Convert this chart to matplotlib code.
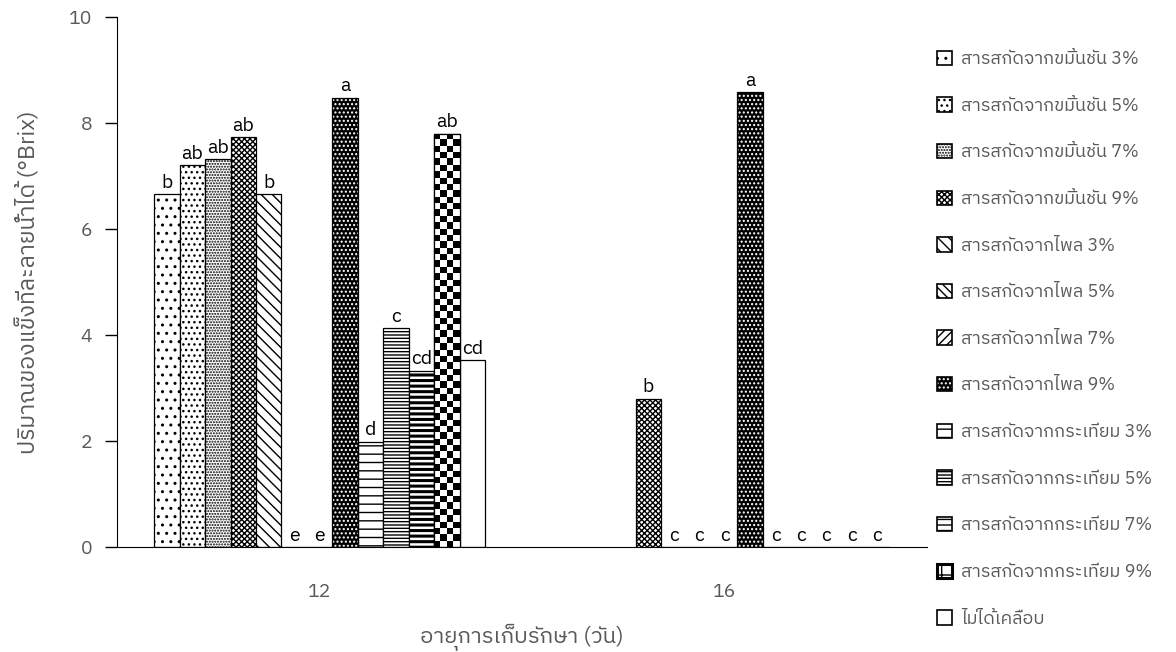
import numpy as np
import matplotlib
matplotlib.use("Agg")
import matplotlib.pyplot as plt
import matplotlib.font_manager as fm
from matplotlib.ft2font import FT2Font
from matplotlib.patches import Patch
from matplotlib.legend_handler import HandlerTuple

# ---- find a font with Thai glyphs ----
thai_font = None
cands = []
for f in fm.fontManager.ttflist:
    try:
        cm = FT2Font(f.fname).get_charmap()
    except Exception:
        continue
    if 0x0E01 in cm:
        cands.append(f.name)
pref = [c for c in cands if "Sans" in c or "Loop" in c]
if pref:
    thai_font = pref[0]
elif cands:
    thai_font = cands[0]
fams = ([thai_font] if thai_font else []) + ["DejaVu Sans"]
plt.rcParams["font.family"] = fams

# ---- data ----
days = ["12", "16"]
treatments = [
    "สารสกัดจากขมิ้นชัน 3%", "สารสกัดจากขมิ้นชัน 5%", "สารสกัดจากขมิ้นชัน 7%",
    "สารสกัดจากขมิ้นชัน 9%", "สารสกัดจากไพล 3%", "สารสกัดจากไพล 5%",
    "สารสกัดจากไพล 7%", "สารสกัดจากไพล 9%", "สารสกัดจากกระเทียม 3%",
    "สารสกัดจากกระเทียม 5%", "สารสกัดจากกระเทียม 7%", "สารสกัดจากกระเทียม 9%",
    "ไม่ได้เคลือบ",
]
values_day12 = [6.66, 7.20, 7.32, 7.74, 6.66, 0.0, 0.0, 8.48, 1.99, 4.13, 3.33, 7.80, 3.52]
values_day16 = [np.nan, np.nan, np.nan, 2.80, 0.0, 0.0, 0.0, 8.59, 0.0, 0.0, 0.0, 0.0, 0.0]
letters_day12 = ["b", "ab", "ab", "ab", "b", "e", "e", "a", "d", "c", "cd", "ab", "cd"]
letters_day16 = ["", "", "", "b", "c", "c", "c", "a", "c", "c", "c", "c", "c"]
yticks = [0, 2, 4, 6, 8, 10]

# ---- styles ----
styles = [
    dict(fc="white", hatch=".."),
    dict(fc="white", hatch="..."),
    dict(fc="white", hatch="......"),
    dict(fc="white", hatch="xxxxxx"),
    dict(fc="white", hatch="\\\\\\"),
    dict(fc="white", hatch="\\\\\\\\"),
    dict(fc="white", hatch="////"),
    dict(fc="black", hatch="....", hc="white"),
    dict(fc="white", hatch="--"),
    dict(fc="white", hatch="-----"),
    dict(fc="white", hatch="---", hlw=2.2),
    dict(fc="white", hatch=None, checker=True),
    dict(fc="white", hatch=None),
]

fig = plt.figure(figsize=(11.76, 6.52), dpi=100)
ax = fig.add_axes([0.0995, 0.161, 0.689, 0.813])

n = len(treatments)
w = 0.0628
x = np.arange(len(days))
data = np.array([values_day12, values_day16], dtype=float)
letters = [letters_day12, letters_day16]
gray = "#595959"


def set_hlw(p, lw):
    try:
        p.set_hatch_linewidth(lw)
    except Exception:
        pass


handles = []
for i in range(n):
    st = styles[i]
    xs = x + (i - (n - 1) / 2) * w
    vals = data[:, i]
    hc = st.get("hc", "black")
    bars = ax.bar(xs, vals, w, color=st["fc"], edgecolor=hc, hatch=st["hatch"],
                  linewidth=0 if hc != "black" else 0.9, zorder=2)
    if st.get("hlw"):
        for b in bars:
            set_hlw(b, st["hlw"])
    if hc != "black":
        ax.bar(xs, vals, w, fill=False, edgecolor="black", linewidth=0.9, zorder=3)
    if st.get("checker"):
        for b in bars:
            h = b.get_height()
            if not np.isfinite(h) or h <= 0:
                continue
            ncol = 4
            nrow = max(1, int(round(h * 53 / 6.4)))
            cb = (np.indices((nrow, ncol)).sum(axis=0) % 2).astype(float)
            im = ax.imshow(cb, cmap="gray", extent=(b.get_x(), b.get_x() + b.get_width(), 0, h),
                           aspect="auto", interpolation="nearest", zorder=2.5, origin="lower")
            im.set_clip_path(b)
            ax.bar(b.get_x() + b.get_width() / 2, h, b.get_width(), fill=False,
                   edgecolor="black", linewidth=0.9, zorder=3)
    for j in range(len(days)):
        lab = letters[j][i]
        if lab:
            v = vals[j] if np.isfinite(vals[j]) else 0
            ax.text(xs[j], v + 0.04, lab, ha="center", va="bottom", fontsize=14,
                    color="black", zorder=4)
    # legend handles
    if hc != "black":
        hnd = (Patch(fc=st["fc"], ec=hc, hatch=st["hatch"], lw=0),
               Patch(fill=False, ec="black", lw=1.2))
    elif st.get("checker"):
        hnd = Patch(fc="white", ec="black", hatch="+", lw=2.2)
        set_hlw(hnd, 2.0)
    else:
        hnd = Patch(fc=st["fc"], ec="black", hatch=st["hatch"], lw=1.2)
        if st.get("hlw"):
            set_hlw(hnd, st["hlw"])
    handles.append(hnd)

ax.set_xlim(-0.5, 1.5)
ax.set_ylim(0, 10)
ax.set_yticks(yticks)
ax.set_xticks(x)
ax.set_xticklabels(days)
ax.tick_params(axis="y", direction="out", length=9, width=1, labelcolor=gray,
               color="black", labelsize=14, pad=9)
ax.tick_params(axis="x", length=0, labelcolor=gray, labelsize=14, pad=26)
for s in ["top", "right"]:
    ax.spines[s].set_visible(False)
ax.spines["left"].set_color("black")
ax.spines["bottom"].set_color("black")

ax.set_ylabel("ปริมาณของแข็งที่ละลายน้ำได้ (°Brix)", fontsize=16.5, color=gray, labelpad=20)
ax.set_xlabel("อายุการเก็บรักษา (วัน)", fontsize=16, color=gray, labelpad=16)

leg = fig.legend(handles, treatments, loc="upper left", bbox_to_anchor=(0.783, 0.948),
                 frameon=False, fontsize=13, labelcolor=gray, handlelength=0.85,
                 handleheight=0.85, handletextpad=0.5, labelspacing=1.585,
                 handler_map={tuple: HandlerTuple(ndivide=1, pad=0)})

fig.savefig("out.png", dpi=100)
